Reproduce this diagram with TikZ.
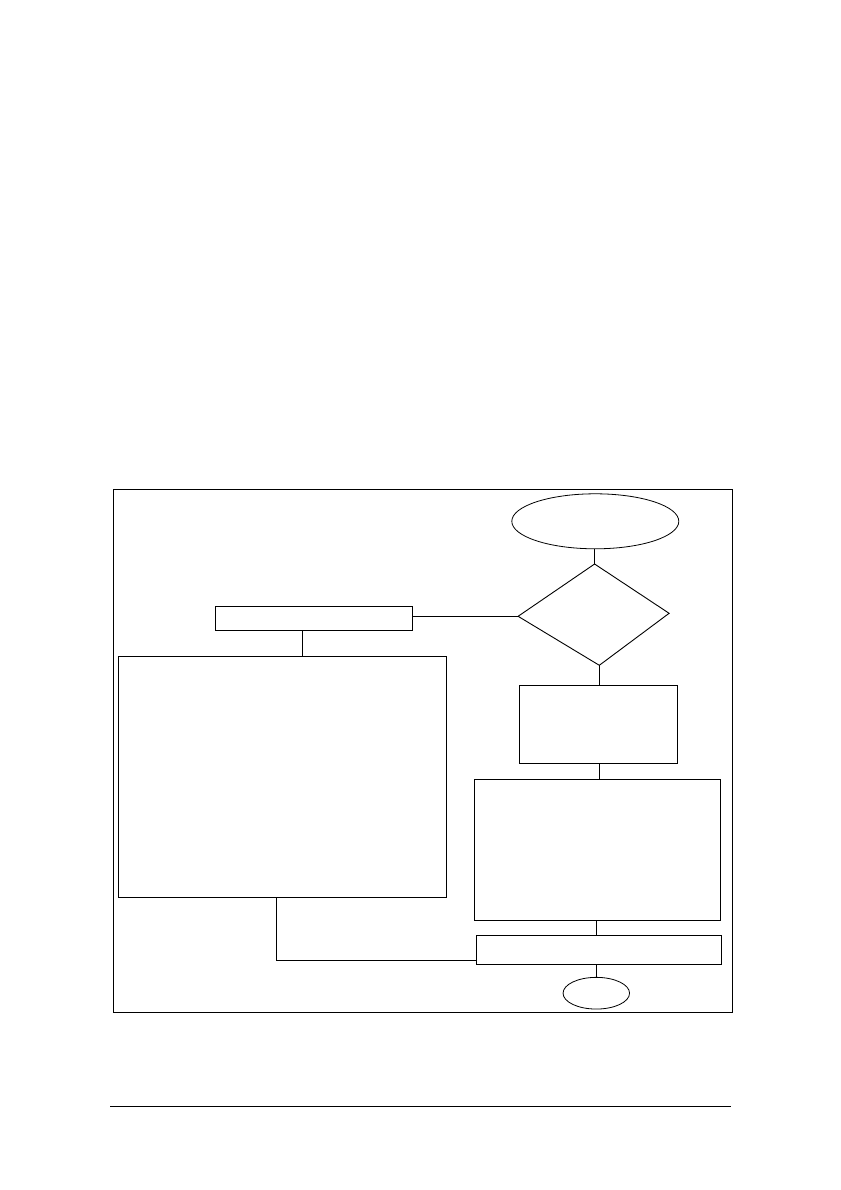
\documentclass[tikz,border=0pt]{standalone}
\usetikzlibrary{shapes.geometric}
\begin{document}
\begin{tikzpicture}[x=1pt,y=-1pt,
  box/.style={draw,line width=0.9pt,rectangle,inner sep=0pt,outer sep=0pt},
  oval/.style={draw,line width=0.8pt,ellipse,inner sep=0pt,outer sep=0pt},
  link/.style={line width=0.9pt}]
\useasboundingbox (0,0) rectangle (840,1190);
% outer frame
\node[box,line width=1.1pt,minimum width=619pt,minimum height=523pt] (frame) at (422.8,750.7) {};
% start ellipse
\node[oval,minimum width=167pt,minimum height=55pt] (start) at (595.3,521.3) {};
% decision (slightly skewed diamond)
\coordinate (dt) at (594.6,564);
\coordinate (dl) at (518.1,616.3);
\coordinate (dr) at (669.1,613.3);
\coordinate (db) at (599.3,665.3);
\draw[line width=0.9pt,line join=miter] (dt) -- (dr) -- (db) -- (dl) -- cycle;
% left small box
\node[box,minimum width=197pt,minimum height=24pt] (b1) at (314,618.3) {};
% left big box
\node[box,minimum width=328.5pt,minimum height=241pt] (b2) at (282.2,776.8) {};
% right boxes
\node[box,minimum width=158pt,minimum height=78.3pt] (r1) at (598.5,724.2) {};
\node[box,minimum width=246.4pt,minimum height=141pt] (r2) at (597.4,849.8) {};
\node[box,minimum width=245.4pt,minimum height=29pt] (r3) at (598.8,949.8) {};
% end ellipse
\node[oval,minimum width=66.5pt,minimum height=31.7pt] (stop) at (596.3,993.2) {};
% connectors
\draw[link] (dt |- start.south) -- (dt);
\draw[link] (b1.east |- dl) -- (dl);
\coordinate (c1) at (302.5,640);
\draw[link] (c1 |- b1.south) -- (c1 |- b2.north);
\draw[link] (db) -- (db |- r1.north);
\draw[link] (r1.south -| db) -- (r2.north -| db);
\coordinate (c2) at (596,935);
\draw[link] (c2 |- r2.south) -- (c2 |- r3.north);
\draw[link] (stop.north |- r3.south) -- (stop.north);
\coordinate (c3) at (276.5,960.3);
\draw[link] (c3 |- b2.south) -- (c3) -- (c3 -| r3.west);
% bottom rule
\coordinate (l1) at (110.2,1106);
\coordinate (l2) at (731.4,1106);
\draw[line width=1pt] (l1) -- (l2);
\end{tikzpicture}
\end{document}
